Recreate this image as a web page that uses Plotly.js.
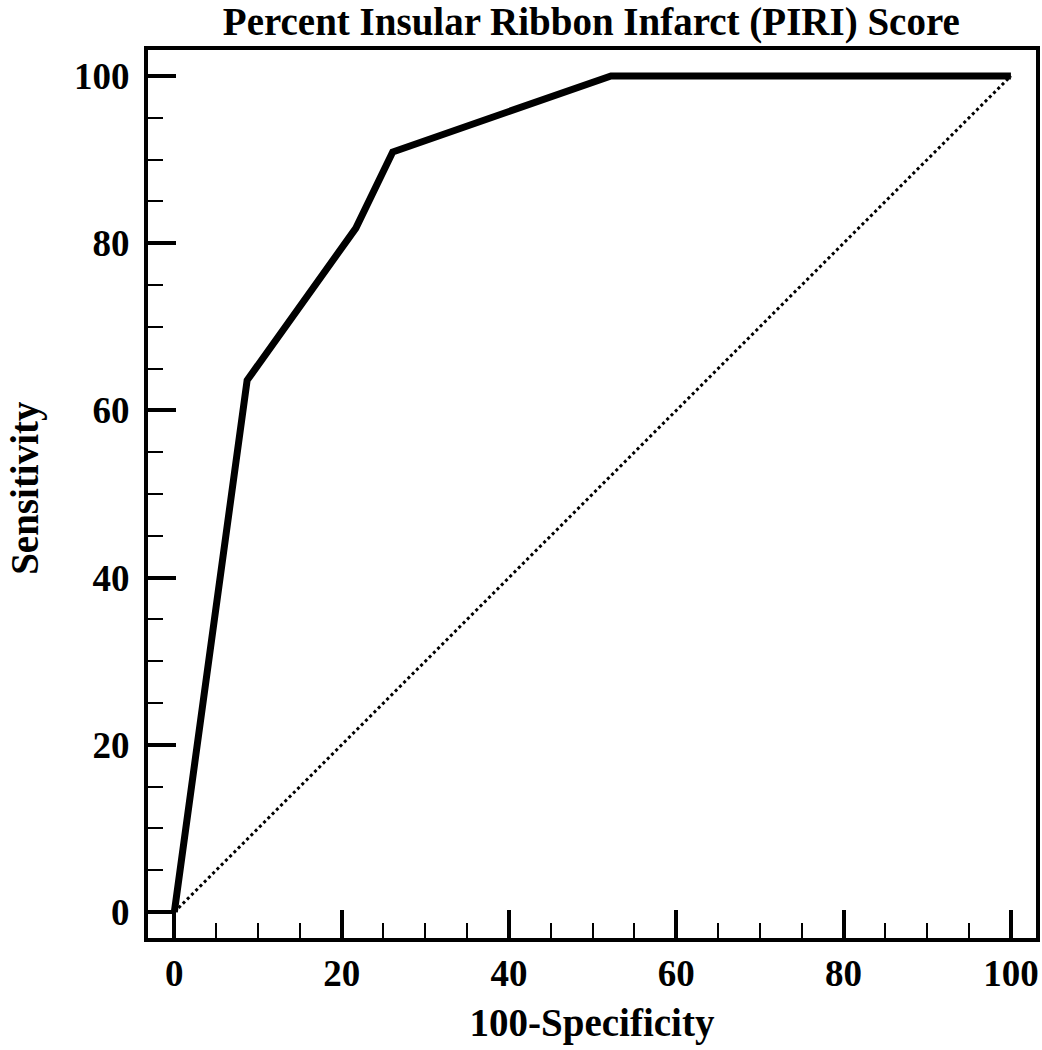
<!DOCTYPE html>
<html><head><meta charset="utf-8">
<script src="https://cdn.plot.ly/plotly-3.0.1.min.js"></script>
<style>html,body{margin:0;padding:0;background:#fff}#chart{width:1042px;height:1050px}</style>
</head><body><div id="chart"></div>
<script>
const rocX = [0, 8.7, 21.7, 26.1, 52.2, 100];
const rocY = [0, 63.6, 81.8, 90.9, 100, 100];
const refX = [0, 100];
const refY = [0, 100];
const tickVals = [0, 20, 40, 60, 80, 100];
const tickText = ['0', '20', '40', '60', '80', '100'];

const FONT = 'Liberation Serif, Times New Roman, serif';
const traces = [
  {x: refX, y: refY, mode: 'lines', line: {color: '#000', width: 3, dash: 'dot'}, hoverinfo: 'skip'},
  {x: rocX, y: rocY, mode: 'lines', line: {color: '#000', width: 7}, hoverinfo: 'skip'}
];
const axisCommon = {
  showgrid: false, zeroline: false,
  showline: true, linecolor: '#000', linewidth: 4, mirror: true,
  ticks: 'inside', ticklen: 28, tickwidth: 4, tickcolor: '#000',
  tickmode: 'array', tickvals: tickVals, ticktext: tickText,
  minor: {ticks: 'inside', ticklen: 15, tickwidth: 2, tickcolor: '#000', dtick: 5, tick0: 0, showgrid: false},
  tickfont: {family: FONT, size: 37, color: '#000', weight: 'bold'}
};
const layout = {
  width: 1042, height: 1050,
  margin: {l: 148, r: 5.5, t: 50, b: 112},
  paper_bgcolor: '#fff', plot_bgcolor: '#fff',
  showlegend: false,
  title: {text: 'Percent Insular Ribbon Infarct (PIRI) Score', x: 0.5675, xanchor: 'center',
          yref: 'container', y: 0.993, yanchor: 'top', pad: {t: 0, b: 0},
          font: {family: FONT, size: 39, color: '#000', weight: 'bold'}},
  xaxis: Object.assign({}, axisCommon, {range: [-3.15, 103.0],
    title: {text: '100-Specificity', standoff: 16, font: {family: FONT, size: 39, color: '#000', weight: 'bold'}}}),
  yaxis: Object.assign({}, axisCommon, {range: [-3.1, 103.1], ticklabelstandoff: 7}),
  annotations: [{
    text: 'Sensitivity', textangle: -90, showarrow: false,
    xref: 'paper', yref: 'paper', x: -0.1655, y: 0.507, xanchor: 'left', yanchor: 'middle',
    font: {family: FONT, size: 39, color: '#000', weight: 'bold'}
  }]
};
Plotly.newPlot('chart', traces, layout, {staticPlot: true, displayModeBar: false});
</script></body></html>
